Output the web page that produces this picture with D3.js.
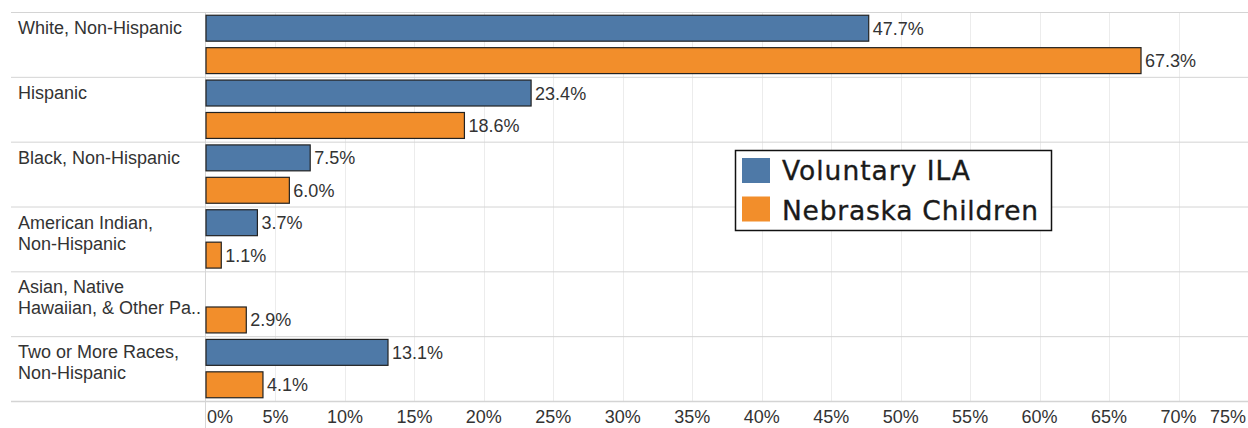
<!DOCTYPE html>
<html>
<head>
<meta charset="utf-8">
<script src="https://cdn.jsdelivr.net/npm/d3@7"></script>
<style>
  html, body { margin: 0; padding: 0; background: #fff; }
  svg { display: block; }
</style>
</head>
<body>
<div id="chart"></div>
<script>
const width = 1248;
const height = 428;

// data
const categories = [
  ["White, Non-Hispanic"],
  ["Hispanic"],
  ["Black, Non-Hispanic"],
  ["American Indian,", "Non-Hispanic"],
  ["Asian, Native", "Hawaiian, & Other Pa.."],
  ["Two or More Races,", "Non-Hispanic"]
];
const seriesNames = ["Voluntary ILA", "Nebraska Children"];
const voluntaryIla = [47.7, 23.4, 7.5, 3.7, null, 13.1];
const nebraskaChildren = [67.3, 18.6, 6.0, 1.1, 2.9, 4.1];
const tickValues = [0, 5, 10, 15, 20, 25, 30, 35, 40, 45, 50, 55, 60, 65, 70, 75];
const colors = ["#4e79a7", "#f28e2b"];

const fontSize = 18;
const labelFont = "'Liberation Sans', Arial, sans-serif";
const textColor = "#333";

const svg = d3.select("#chart")
  .append("svg")
  .attr("width", width)
  .attr("height", height);

const x = d3.scaleLinear()
  .domain([0, 75])
  .range([206, 1248]);

const y = d3.scaleBand()
  .domain(d3.range(categories.length))
  .range([12, 401])
  .paddingInner(0);

const ySub = d3.scaleBand()
  .domain([0, 1])
  .range([0, y.bandwidth()])
  .paddingInner(0.2)
  .paddingOuter(0.1);

// vertical grid lines
svg.append("g")
  .selectAll("line")
  .data(tickValues.slice(1))
  .join("line")
  .attr("x1", d => Math.round(x(d)) + 0.5)
  .attr("x2", d => Math.round(x(d)) + 0.5)
  .attr("y1", 12)
  .attr("y2", 401)
  .attr("stroke", "#ececec")
  .attr("stroke-width", 1);

// divider between labels and plot
svg.append("line")
  .attr("x1", 205.5).attr("x2", 205.5)
  .attr("y1", 12).attr("y2", height)
  .attr("stroke", "#d6d6d6");

// row separators
svg.append("g")
  .selectAll("line")
  .data(d3.range(categories.length + 1))
  .join("line")
  .attr("x1", 11)
  .attr("x2", width)
  .attr("y1", d => (d < categories.length ? y(d) : 401) + 0.5)
  .attr("y2", d => (d < categories.length ? y(d) : 401) + 0.5)
  .attr("stroke", "#d4d4d4")
  .attr("stroke-width", d => d === categories.length ? 1.5 : 1);

// category labels
const catGroups = svg.append("g")
  .selectAll("text")
  .data(categories)
  .join("text")
  .attr("font-family", labelFont)
  .attr("font-size", fontSize)
  .attr("fill", textColor);

catGroups.selectAll("tspan")
  .data((d, i) => d.map((line, j) => ({ line, j, i })))
  .join("tspan")
  .attr("x", 18)
  .attr("y", d => y(d.i) + 22 + d.j * 21)
  .text(d => d.line);

// bars
const rows = categories.map((c, i) => [
  { row: i, s: 0, value: voluntaryIla[i] },
  { row: i, s: 1, value: nebraskaChildren[i] }
]).flat().filter(d => d.value != null);

svg.append("g")
  .selectAll("rect")
  .data(rows)
  .join("rect")
  .attr("x", x(0))
  .attr("y", d => y(d.row) + ySub(d.s))
  .attr("width", d => x(d.value) - x(0))
  .attr("height", ySub.bandwidth())
  .attr("fill", d => colors[d.s])
  .attr("stroke", "#222")
  .attr("stroke-width", 1.2);

// value labels
svg.append("g")
  .selectAll("text")
  .data(rows)
  .join("text")
  .attr("x", d => x(d.value) + 4)
  .attr("y", d => y(d.row) + ySub(d.s) + ySub.bandwidth() / 2 + fontSize * 0.36)
  .attr("font-family", labelFont)
  .attr("font-size", fontSize)
  .attr("fill", textColor)
  .text(d => d.value.toFixed(1) + "%");

// x axis labels
svg.append("g")
  .selectAll("text")
  .data(tickValues)
  .join("text")
  .attr("x", (d, i) => i === 0 ? x(d) + 1 : (i === tickValues.length - 1 ? x(d) - 2 : x(d)))
  .attr("y", 423)
  .attr("text-anchor", (d, i) => i === 0 ? "start" : (i === tickValues.length - 1 ? "end" : "middle"))
  .attr("font-family", labelFont)
  .attr("font-size", fontSize)
  .attr("fill", textColor)
  .text(d => d + "%");

// legend
const legend = svg.append("g");
legend.append("rect")
  .attr("x", 735.5)
  .attr("y", 150.5)
  .attr("width", 316)
  .attr("height", 80)
  .attr("fill", "#fff")
  .attr("stroke", "#111")
  .attr("stroke-width", 1.5);

const legendItems = legend.selectAll("g")
  .data(seriesNames)
  .join("g")
  .attr("transform", (d, i) => `translate(742, ${158 + i * 38.5})`);

legendItems.append("rect")
  .attr("width", 28)
  .attr("height", 25)
  .attr("fill", (d, i) => colors[i]);

legendItems.append("text")
  .attr("x", 40)
  .attr("y", (d, i) => 21.5 + i * 2)
  .attr("font-family", "'DejaVu Sans', sans-serif")
  .attr("font-size", 26.5)
  .attr("fill", "#1a1a1a")
  .attr("stroke", "#1a1a1a")
  .attr("stroke-width", 0.35)
  .attr("textLength", (d, i) => i === 0 ? 188 : 256)
  .text(d => d);
</script>
</body>
</html>
